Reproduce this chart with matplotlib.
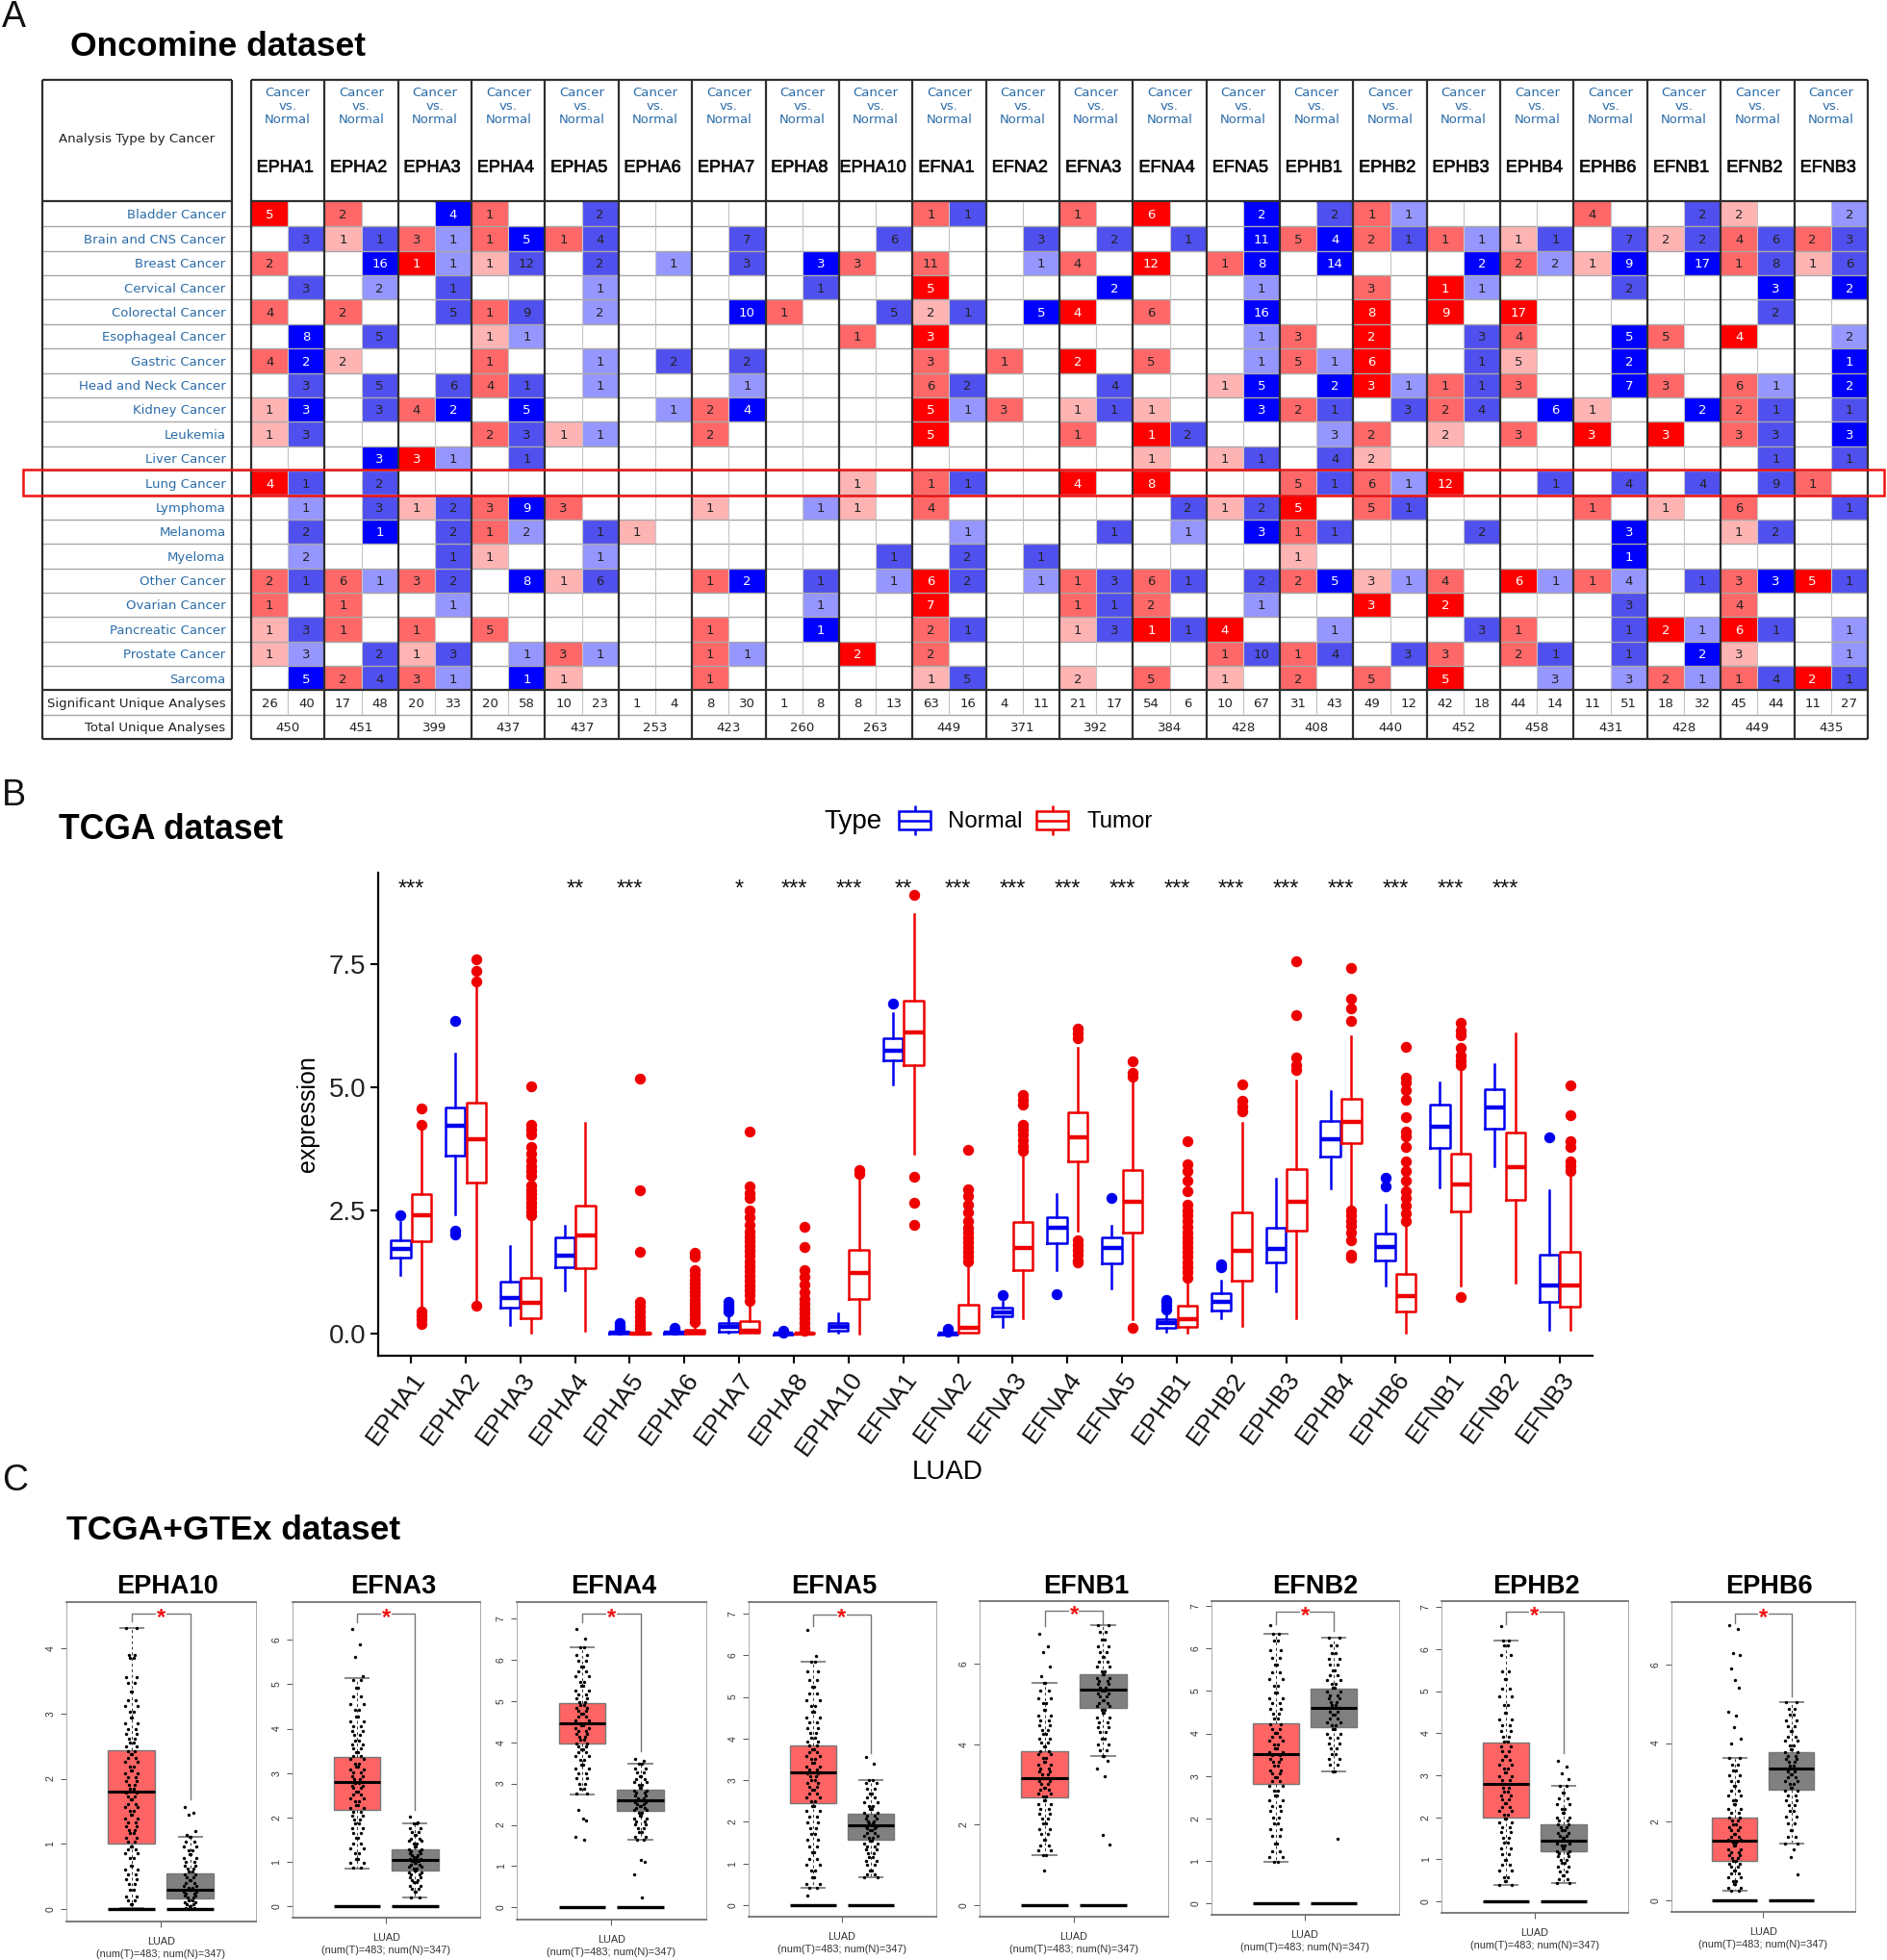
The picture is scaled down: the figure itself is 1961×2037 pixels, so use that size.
import matplotlib
matplotlib.use("Agg")
import matplotlib.pyplot as plt
import matplotlib.patheffects as pe
from matplotlib.colors import ListedColormap
from matplotlib.patches import Rectangle
import numpy as np

plt.rcParams['font.family'] = ['Liberation Sans', 'DejaVu Sans']

W, H = 1961, 2037

# ---- panel A data ----
genes_a = ['EPHA1','EPHA2','EPHA3','EPHA4','EPHA5','EPHA6','EPHA7','EPHA8','EPHA10','EFNA1','EFNA2',
           'EFNA3','EFNA4','EFNA5','EPHB1','EPHB2','EPHB3','EPHB4','EPHB6','EFNB1','EFNB2','EFNB3']
cancers = ['Bladder Cancer','Brain and CNS Cancer','Breast Cancer','Cervical Cancer','Colorectal Cancer',
           'Esophageal Cancer','Gastric Cancer','Head and Neck Cancer','Kidney Cancer','Leukemia','Liver Cancer',
           'Lung Cancer','Lymphoma','Melanoma','Myeloma','Other Cancer','Ovarian Cancer','Pancreatic Cancer',
           'Prostate Cancer','Sarcoma']
# count:rank for each gene, up column then down column, rank 1-3 is the colour step of the cell
cells = [
 "5:3 -  2:2 -  - 4:3  1:2 -  - 2:2  - -  - -  - -  - -  1:2 1:2  - -  1:2 -  6:3 -  - 2:3  - 2:2  1:2 1:1  - -  - -  4:2 -  - 2:2  2:1 -  - 2:1",
 "- 3:2  1:1 1:2  3:2 1:1  1:2 5:3  1:2 4:2  - -  - 7:2  - -  - 6:2  - -  - 3:2  - 2:2  - 1:2  - 11:3  5:2 4:3  2:2 1:2  1:2 1:1  1:1 1:2  - 7:2  2:1 2:2  4:2 6:2  2:2 3:2",
 "2:2 -  - 16:3  1:3 1:1  1:1 12:2  - 2:2  - 1:1  - 3:2  - 3:3  3:2 -  11:2 -  - 1:1  4:2 -  12:3 -  1:2 8:3  - 14:3  - -  - 2:3  2:2 2:1  1:1 9:3  - 17:3  1:2 8:2  1:1 6:2",
 "- 3:2  - 2:1  - 1:2  - -  - 1:1  - -  - -  - 1:2  - -  5:3 -  - -  - 2:3  - -  - 1:1  - -  3:2 -  1:3 1:1  - -  - 2:2  - -  - 3:3  - 2:3",
 "4:2 -  2:2 -  - 5:2  1:2 9:2  - 2:1  - -  - 10:3  1:2 -  - 5:2  2:1 1:2  - 5:3  4:3 -  6:2 -  - 16:3  - -  8:3 -  9:3 -  17:3 -  - -  - -  - 2:2  - -",
 "- 8:3  - 5:2  - -  1:1 1:1  - -  - -  - -  - -  1:2 -  3:3 -  - -  - -  - -  - 1:1  3:2 -  2:3 -  - 3:2  4:2 -  - 5:3  5:2 -  4:3 -  - 2:1",
 "4:2 2:3  2:1 -  - -  1:2 -  - 1:1  - 2:2  - 2:2  - -  - -  3:2 -  1:2 -  2:3 -  5:2 -  - 1:1  5:2 1:1  6:3 -  - 1:2  5:1 -  - 2:3  - -  - -  - 1:3",
 "- 3:2  - 5:2  - 6:2  4:2 1:2  - 1:1  - -  - 1:1  - -  - -  6:2 2:2  - -  - 4:2  - -  1:1 5:3  - 2:3  3:3 1:1  1:2 1:2  3:2 -  - 7:3  3:2 -  6:2 1:1  - 2:3",
 "1:1 3:3  - 3:2  4:2 2:3  - 5:3  - -  - 1:1  2:2 4:3  - -  - -  5:3 1:1  3:2 -  1:1 1:2  1:1 -  - 3:3  2:2 1:2  - 3:2  2:2 4:2  - 6:3  1:1 -  - 2:3  2:2 1:2  - 1:2",
 "1:1 3:2  - -  - -  2:2 3:2  1:1 1:1  - -  2:2 -  - -  - -  5:3 -  - -  1:2 -  1:3 2:2  - -  - 3:1  2:2 -  2:1 -  3:2 -  3:3 -  3:3 -  3:2 3:2  - 3:3",
 "- -  - 3:3  3:3 1:1  - 1:2  - -  - -  - -  - -  - -  - -  - -  - -  1:1 -  1:1 1:2  - 4:2  2:1 -  - -  - -  - -  - -  - 1:2  - 1:2",
 "4:3 1:2  - 2:2  - -  - -  - -  - -  - -  - -  1:1 -  1:2 1:2  - -  4:3 -  8:3 -  - -  5:2 1:2  6:2 1:1  12:3 -  - 1:2  - 4:2  - 4:2  - 9:2  1:2 -",
 "- 1:1  - 3:2  1:1 2:2  3:2 9:3  3:2 -  - -  1:1 -  - 1:1  1:1 -  4:2 -  - -  - -  - 2:2  1:1 2:2  5:3 -  5:2 1:2  - -  - -  1:2 -  1:1 -  6:2 -  - 1:2",
 "- 2:2  - 1:3  - 2:2  1:2 2:1  - 1:2  1:1 -  - -  - -  - -  - 1:1  - -  - 1:2  - 1:1  - 3:3  1:2 1:2  - -  - 2:2  - -  - 3:3  - -  1:1 2:2  - -",
 "- 2:1  - -  - 1:2  1:1 -  - 1:1  - -  - -  - -  - 1:2  - 2:2  - 1:2  - -  - -  - -  1:1 -  - -  - -  - -  - 1:3  - -  - -  - -",
 "2:2 1:2  6:2 1:1  3:2 2:2  - 8:3  1:1 6:2  - -  1:2 2:3  - 1:2  - 1:1  6:3 2:2  - 1:1  1:2 3:2  6:2 1:2  - 2:2  2:2 5:3  3:1 1:1  4:2 -  6:3 1:1  1:2 4:1  - 1:2  3:2 3:3  5:3 1:2",
 "1:2 -  1:2 -  - 1:1  - -  - -  - -  - -  - 1:1  - -  7:3 -  - -  1:2 1:2  2:2 -  - 1:1  - -  3:3 -  2:3 -  - -  - 3:2  - -  4:2 -  - -",
 "1:1 3:2  1:2 -  1:2 -  5:2 -  - -  - -  1:2 -  - 1:3  - -  2:2 1:2  - -  1:1 3:2  1:3 1:2  4:3 -  - 1:1  - -  - 3:2  1:2 -  - 1:2  2:3 1:1  6:3 1:2  - 1:1",
 "1:1 3:1  - 2:2  1:1 3:2  - 1:1  3:2 1:1  - -  1:2 1:1  - -  2:3 -  2:2 -  - -  - -  - -  1:2 10:2  1:2 4:2  - 3:2  3:2 -  2:2 1:2  - 1:2  - 2:3  3:1 -  - 1:1",
 "- 5:3  2:2 4:2  3:2 1:1  - 1:3  1:1 -  - -  1:2 -  - -  - -  1:1 5:2  - -  2:1 -  5:2 -  1:1 -  2:2 -  5:2 -  5:3 -  - 3:1  - 3:1  2:2 1:1  1:2 4:2  2:3 1:2",
]
sig_unique = [26,40,17,48,20,33,20,58,10,23,1,4,8,30,1,8,8,13,63,16,4,11,21,17,54,6,10,67,31,43,49,12,42,18,44,14,11,51,18,32,45,44,11,27]
total_unique = [450,451,399,437,437,253,423,260,263,449,371,392,384,428,408,440,452,458,431,428,449,435]

# ---- panel B data ----
genes_b = genes_a
stars = ['***','','','**','***','','*','***','***','**','***','***','***','***','***','***','***','***','***','***','***','']

normal_q1  = [1.54,3.62,0.53,1.36,0.00,0.00,0.05,-0.01,0.07,5.55,-0.01,0.35,1.85,1.43,0.13,0.48,1.45,3.60,1.50,3.77,4.16,0.65]
normal_med = [1.72,4.22,0.73,1.59,0.02,0.02,0.14,0.00,0.14,5.74,0.00,0.44,2.15,1.75,0.22,0.66,1.73,3.95,1.77,4.20,4.60,0.99]
normal_q3  = [1.90,4.59,1.07,1.95,0.04,0.05,0.23,0.01,0.23,5.99,0.01,0.53,2.36,1.96,0.30,0.83,2.16,4.31,2.03,4.65,4.96,1.61]
normal_lo  = [1.20,2.43,0.18,0.89,0.00,0.00,0.02,-0.01,0.03,5.05,-0.01,0.14,1.29,0.93,0.04,0.32,0.87,2.95,0.98,2.97,3.41,0.08]
normal_hi  = [2.27,5.68,1.79,2.20,0.06,0.08,0.39,0.02,0.41,6.51,0.02,0.66,2.84,2.19,0.44,1.09,3.14,4.92,2.63,5.10,5.46,2.92]
normal_out = [[2.41],[6.34,2.10,2.02],[],[],[0.08,0.12,0.17,0.22],[0.08,0.13],[0.45,0.52,0.58,0.65],[0.03,0.06],[],[6.69],
              [0.05,0.10],[0.79],[0.80],[2.75],[0.50,0.58,0.65,0.70],[1.35,1.42],[],[],[3.17,3.00],[],[],[3.98]]

tumor_q1  = [1.88,3.07,0.32,1.33,0.00,0.00,0.02,0.00,0.71,5.45,0.02,1.29,3.49,2.05,0.15,1.09,2.10,3.87,0.45,2.49,2.71,0.56]
tumor_med = [2.41,3.95,0.64,1.99,0.01,0.03,0.07,0.01,1.23,6.12,0.13,1.74,3.99,2.68,0.30,1.68,2.69,4.30,0.77,3.04,3.38,0.98]
tumor_q3  = [2.83,4.69,1.14,2.61,0.03,0.09,0.27,0.02,1.70,6.76,0.59,2.27,4.49,3.32,0.57,2.46,3.34,4.76,1.21,3.66,4.09,1.67]
tumor_lo  = [0.50,0.66,0.02,0.07,0.00,0.00,0.02,0.00,0.00,3.66,0.02,0.33,2.10,0.30,0.02,0.17,0.33,2.60,0.03,0.98,1.05,0.08]
tumor_hi  = [4.15,7.07,2.32,4.27,0.07,0.20,0.60,0.04,3.17,8.52,1.42,3.62,5.80,5.12,1.02,4.27,5.14,6.04,2.20,5.34,6.10,3.25]
tumor_out = [[4.58,4.25,0.45,0.38,0.30,0.20],
             [7.59,7.36,7.15,0.58],
             [5.03,4.25,4.15,4.05,3.80,3.65,3.52,3.40,3.30,3.20,3.02,2.92,2.84,2.75,2.66,2.58,2.48,2.40],
             [],
             [5.18,2.92,1.66,0.65,0.56,0.46,0.36,0.27,0.18,0.10],
             [1.65,1.56,1.30,1.20,1.11,1.02,0.95,0.86,0.78,0.70,0.62,0.55,0.47,0.40,0.32,0.25],
             [4.10,3.00,2.85,2.75,2.50,2.36,2.22,2.08,1.98,1.88,1.78,1.68,1.58,1.48,1.38,1.28,1.18,1.08,0.98,0.88,0.78,0.68],
             [2.17,1.77,1.30,1.15,1.00,0.85,0.72,0.62,0.52,0.42,0.32,0.22,0.12,0.07],
             [3.32,3.25],
             [8.91,3.18,2.67,2.21],
             [3.73,2.93,2.80,2.62,2.46,2.30,2.16,2.06,1.96,1.86,1.76,1.66,1.56,1.48],
             [4.85,4.75,4.65,4.25,4.15,4.05,3.92,3.82,3.72],
             [6.20,6.10,6.00,1.90,1.80,1.70,1.60,1.50,1.45],
             [5.52,5.30,5.22,0.13],
             [3.90,3.45,3.30,3.10,2.90,2.62,2.50,2.40,2.30,2.18,2.06,1.96,1.86,1.76,1.66,1.56,1.46,1.36,1.26,1.14],
             [5.05,4.72,4.62,4.52],
             [7.56,6.46,5.60,5.45,5.35],
             [7.41,6.80,6.60,6.34,2.50,2.40,2.30,2.20,2.05,1.90,1.60,1.55],
             [5.82,5.20,5.10,4.95,4.75,4.40,4.10,4.00,3.80,3.50,3.30,3.10,2.90,2.75,2.60,2.45,2.30],
             [6.30,6.15,6.05,5.80,5.65,5.55,5.45,0.75],
             [],
             [5.04,4.43,3.90,3.80,3.50,3.40,3.30]]

# ---- panel C data ----
genes_c = ['EPHA10','EFNA3','EFNA4','EFNA5','EFNB1','EFNB2','EPHB2','EPHB6']
c_ticks = [[0,1,2,3,4],[0,1,2,3,4,5,6],[0,1,2,3,4,5,6,7],[0,1,2,3,4,5,6,7],[0,2,4,6],[0,1,2,3,4,5,6,7],[0,1,2,3,4,5,6,7],[0,2,4,6]]
c_t_q1  = [1.00,2.18,3.96,2.45,2.67,2.81,1.99,1.00]
c_t_med = [1.80,2.79,4.46,3.19,3.17,3.51,2.79,1.51]
c_t_q3  = [2.44,3.37,4.95,3.84,3.83,4.24,3.78,2.11]
c_t_lo  = [0.01,0.85,2.74,0.41,1.25,0.97,0.39,0.24]
c_t_hi  = [4.31,5.13,6.31,5.85,5.54,6.35,6.21,3.62]
c_n_q1  = [0.16,0.81,2.33,1.57,4.90,4.15,1.18,2.82]
c_n_med = [0.29,1.04,2.59,1.92,5.36,4.59,1.44,3.34]
c_n_q3  = [0.54,1.28,2.84,2.20,5.76,5.06,1.82,3.76]
c_n_lo  = [0.00,0.21,1.63,0.68,3.71,3.11,0.44,1.44]
c_n_hi  = [1.10,1.87,3.48,3.00,6.96,6.26,2.74,5.04]
bracket_top   = [4.53,6.58,7.11,6.98,7.32,6.86,6.89,7.30]
bracket_left  = [4.42,6.40,6.90,6.70,6.94,6.56,6.60,7.05]
bracket_right = [1.68,2.18,3.79,3.65,7.00,6.40,3.53,5.20]

# hand read thinned set of the jitter dots, the picture has 483 and 347 per box
c_t_dots = [
 [4.31,3.90,3.85,3.56,3.47,3.33,3.21,3.12,3.02,2.93,2.85,2.76,2.68,2.61,2.55,2.49,2.42,2.37,2.31,2.26,2.19,2.13,2.08,2.02,1.97,1.91,1.84,1.79,1.73,1.68,1.61,1.56,1.51,1.44,1.39,1.33,1.27,1.21,1.16,1.09,1.03,0.96,0.91,0.85,0.78,0.66,0.61,0.53,0.46,0.38,0.29,0.19,0.14,0.08],
 [6.25,5.90,5.62,5.19,5.10,4.91,4.72,4.55,4.42,4.28,4.16,4.05,3.94,3.85,3.73,3.64,3.55,3.46,3.38,3.31,3.22,3.15,3.07,3.01,2.93,2.86,2.78,2.72,2.66,2.58,2.51,2.44,2.37,2.29,2.21,2.13,2.04,1.95,1.86,1.77,1.66,1.54,1.42,1.31,1.19,1.06,0.97,0.87],
 [6.75,6.50,6.31,6.12,5.98,5.83,5.72,5.59,5.46,5.37,5.26,5.15,5.07,4.98,4.91,4.83,4.76,4.69,4.62,4.54,4.47,4.41,4.34,4.27,4.20,4.13,4.06,3.98,3.91,3.83,3.75,3.66,3.57,3.46,3.36,3.24,3.12,3.00,2.88,2.76,2.35,2.15,2.10,1.70,1.65],
 [6.60,5.98,5.85,5.62,5.41,5.25,5.08,4.93,4.78,4.64,4.51,4.38,4.26,4.14,4.03,3.93,3.83,3.75,3.67,3.58,3.50,3.41,3.33,3.25,3.17,3.09,3.01,2.93,2.85,2.76,2.67,2.58,2.49,2.38,2.26,2.13,1.99,1.85,1.72,1.58,1.42,1.27,1.12,0.96,0.82,0.66,0.51,0.41,0.23],
 [6.75,6.45,6.30,5.95,5.70,5.54,5.33,5.16,5.02,4.87,4.72,4.59,4.47,4.36,4.25,4.14,4.04,3.94,3.83,3.75,3.66,3.57,3.49,3.41,3.33,3.25,3.17,3.09,3.01,2.93,2.86,2.78,2.70,2.60,2.50,2.39,2.27,2.15,2.02,1.89,1.76,1.62,1.48,1.36,1.25,0.85],
 [6.55,6.35,6.18,5.96,5.78,5.61,5.44,5.27,5.11,4.96,4.83,4.71,4.58,4.46,4.34,4.22,4.11,4.02,3.92,3.83,3.74,3.65,3.57,3.49,3.41,3.33,3.24,3.14,3.05,2.96,2.87,2.77,2.66,2.54,2.42,2.29,2.17,2.03,1.88,1.74,1.60,1.42,1.23,1.09,0.97],
 [6.55,6.21,6.08,5.86,5.46,5.29,5.05,4.87,4.66,4.49,4.32,4.18,4.04,3.91,3.79,3.68,3.57,3.46,3.36,3.26,3.16,3.06,2.97,2.88,2.79,2.70,2.61,2.51,2.42,2.33,2.24,2.15,2.06,1.97,1.87,1.76,1.64,1.52,1.39,1.26,1.12,0.98,0.86,0.73,0.58,0.47,0.39],
 [7.00,6.90,6.30,6.25,5.90,5.60,5.40,4.80,4.70,4.40,4.10,4.00,3.62,3.45,3.31,3.17,3.03,2.90,2.78,2.66,2.55,2.44,2.33,2.22,2.11,2.02,1.93,1.85,1.77,1.69,1.61,1.53,1.46,1.38,1.30,1.22,1.15,1.07,1.00,0.92,0.84,0.76,0.67,0.58,0.49,0.40,0.32,0.24],
]
c_n_dots = [
 [1.57,1.48,1.45,1.20,1.14,1.10,1.04,0.96,0.90,0.84,0.78,0.73,0.67,0.62,0.57,0.53,0.48,0.44,0.40,0.36,0.33,0.29,0.26,0.23,0.20,0.17,0.14,0.11,0.08,0.05,0.02],
 [2.02,1.90,1.87,1.76,1.68,1.60,1.53,1.47,1.41,1.35,1.29,1.24,1.20,1.15,1.10,1.06,1.02,0.98,0.94,0.90,0.86,0.81,0.76,0.71,0.65,0.60,0.54,0.47,0.40,0.33,0.21],
 [3.60,3.55,3.48,3.36,3.26,3.18,3.10,3.03,2.96,2.89,2.83,2.77,2.71,2.65,2.60,2.55,2.50,2.45,2.40,2.35,2.29,2.23,2.16,2.09,2.01,1.92,1.82,1.72,1.63,1.15,1.10,0.80,0.25],
 [3.55,3.40,3.00,2.94,2.80,2.68,2.58,2.48,2.39,2.30,2.22,2.15,2.08,2.02,1.96,1.90,1.85,1.79,1.73,1.67,1.61,1.55,1.48,1.41,1.33,1.25,1.16,1.06,0.96,0.84,0.74,0.68],
 [6.96,6.80,6.62,6.44,6.30,6.17,6.05,5.94,5.83,5.74,5.66,5.58,5.50,5.42,5.35,5.27,5.19,5.11,5.03,4.95,4.87,4.78,4.68,4.56,4.44,4.30,4.15,3.99,3.85,3.71,3.60,3.40,3.20,1.75,1.50],
 [6.26,6.08,5.89,5.75,5.61,5.49,5.37,5.26,5.16,5.07,4.98,4.90,4.82,4.74,4.66,4.59,4.51,4.43,4.35,4.27,4.19,4.10,4.00,3.89,3.77,3.65,3.52,3.39,3.26,3.11,1.53],
 [3.35,3.20,3.05,2.90,2.74,2.58,2.44,2.31,2.20,2.10,2.00,1.92,1.84,1.76,1.69,1.62,1.56,1.50,1.44,1.38,1.32,1.26,1.20,1.14,1.07,0.99,0.91,0.82,0.72,0.61,0.52,0.44],
 [5.04,4.88,4.72,4.57,4.43,4.30,4.17,4.05,3.95,3.85,3.76,3.67,3.59,3.51,3.43,3.36,3.28,3.20,3.12,3.04,2.96,2.87,2.78,2.66,2.54,2.41,2.27,2.12,1.96,1.79,1.60,1.44,1.30,1.10,0.65],
]

# ---- layout, pixels of the full picture ----
col_x0, col_w = 261.0, 76.36
row_y0, row_h = 210.0, 25.37
txt_dy = 1.3
# left, right, top, bottom, pixel of y=0, pixels per unit
panel_px = [
 (68.5, 266, 1665, 1997, 1984, 67.75),
 (303.5, 499, 1665, 1993, 1981.3, 46.2),
 (537, 733.5, 1665, 1994.7, 1982.3, 42.9),
 (777.5, 972.5, 1665, 1992.3, 1980, 43.3),
 (1017.5, 1214.5, 1664, 1991.7, 1979.7, 41.7),
 (1258.5, 1453.5, 1664, 1990, 1978.3, 44.2),
 (1498, 1691.5, 1664, 1988, 1976, 43.7),
 (1736.5, 1928, 1665, 1986.7, 1974.7, 40.8),
]
title_x = [174, 409, 638, 867, 1129, 1367, 1596, 1838]

fig = plt.figure(figsize=(W/100, H/100), dpi=100)
ov = fig.add_axes([0, 0, 1, 1])
ov.set_xlim(0, W)
ov.set_ylim(H, 0)
ov.axis('off')


def px_axes(l, r, t, b):
    return fig.add_axes([l/W, 1-b/H, (r-l)/W, (b-t)/H])


for letter, y in [('A', 18), ('B', 827), ('C', 1539)]:
    ov.text(2, y, letter, fontsize=27, va='center', ha='left', color='#111111')
ov.text(73, 48, 'Oncomine dataset', fontsize=25.5, fontweight='bold', va='center')
ov.text(61, 863, 'TCGA dataset', fontsize=25.6, fontweight='bold', va='center')
ov.text(69, 1590, 'TCGA+GTEx dataset', fontsize=25.5, fontweight='bold', va='center')

# ---- panel A ----
link_blue = '#2b6ca8'
n_rows = len(cancers)
n_cols = len(genes_a)*2
rank_grid = np.zeros((n_rows, n_cols))
count_grid = np.zeros((n_rows, n_cols), dtype=int)
for i, row in enumerate(cells):
    toks = row.split()
    assert len(toks) == n_cols, (i, len(toks))
    for j, tok in enumerate(toks):
        if tok == '-':
            continue
        c, r = tok.split(':')
        count_grid[i, j] = int(c)
        rank_grid[i, j] = int(r) if j % 2 == 0 else -int(r)

x_edges = col_x0 + np.arange(n_cols+1)*col_w/2
y_edges = row_y0 + np.arange(n_rows+1)*row_h
cmap = ListedColormap(['#0000ff', '#5050ee', '#9696ff', '#ffffff', '#ffb4b4', '#ff6868', '#ff0000'])
ov.pcolormesh(x_edges, y_edges, rank_grid, cmap=cmap, vmin=-3.5, vmax=3.5)
tab_bottom = y_edges[-1]
foot1, foot2 = tab_bottom+25.5, tab_bottom+50.5
tab_top = 82.5
head_bottom = 209.0

ov.hlines(y_edges[1:-1], 43, col_x0+col_w*22, color='#a8a8a8', lw=1.0)
ov.hlines(foot1, 43, col_x0+col_w*22, color='#a8a8a8', lw=1.0)
ov.vlines(x_edges[1::2], y_edges[0], tab_bottom+25.5, color='#c4c4c4', lw=0.8)
for k in range(23):
    x = col_x0+k*col_w
    ov.vlines(x, tab_top, foot2, color='#2e2e2e', lw=1.6)
for y in [tab_top, head_bottom, tab_bottom, foot2]:
    ov.hlines(y, col_x0, col_x0+22*col_w, color='#2e2e2e', lw=1.6)
    ov.hlines(y, 43.5, 241, color='#2e2e2e', lw=1.6)
ov.vlines([43.5, 241], tab_top, foot2, color='#2e2e2e', lw=1.6)

ov.text(142, 143+txt_dy, 'Analysis Type by Cancer', fontsize=9.6, family='DejaVu Sans', ha='center', va='center', color='#222222')
for k, g in enumerate(genes_a):
    cx = col_x0+(k+0.5)*col_w
    ov.text(cx, 95+txt_dy, 'Cancer', fontsize=9.5, family='DejaVu Sans', ha='center', va='center', color=link_blue)
    ov.text(cx, 109+txt_dy, 'vs.', fontsize=9.5, family='DejaVu Sans', ha='center', va='center', color=link_blue)
    ov.text(cx, 123+txt_dy, 'Normal', fontsize=9.5, family='DejaVu Sans', ha='center', va='center', color=link_blue)
    ov.text(cx-3, 173+txt_dy, g, fontsize=13, ha='center', va='center', color='#111111',
            path_effects=[pe.withStroke(linewidth=0.5, foreground='#111111')])
    ov.text(cx, foot1+12.5+txt_dy, str(total_unique[k]), fontsize=9.5, family='DejaVu Sans', ha='center', va='center', color='#222222')
for i, c in enumerate(cancers):
    yc = row_y0+(i+0.5)*row_h+txt_dy
    ov.text(234.5, yc, c, fontsize=9.5, family='DejaVu Sans', ha='right', va='center', color=link_blue)
    for j in range(n_cols):
        if count_grid[i, j]:
            txt_c = 'white' if abs(rank_grid[i, j]) == 3 else '#222222'
            ov.text((x_edges[j]+x_edges[j+1])/2, yc, str(count_grid[i, j]),
                    fontsize=9.5, family='DejaVu Sans', ha='center', va='center', color=txt_c)
ov.text(234.5, tab_bottom+12.5+txt_dy, 'Significant Unique Analyses', fontsize=9.5, family='DejaVu Sans', ha='right', va='center', color='#222222')
ov.text(234.5, foot1+12.5+txt_dy, 'Total Unique Analyses', fontsize=9.5, family='DejaVu Sans', ha='right', va='center', color='#222222')
for j, v in enumerate(sig_unique):
    ov.text((x_edges[j]+x_edges[j+1])/2, tab_bottom+12.5+txt_dy, str(v), fontsize=9.5, family='DejaVu Sans', ha='center', va='center', color='#222222')
row_lung = cancers.index('Lung Cancer')
ov.add_patch(Rectangle((24, y_edges[row_lung]-1), 1934, row_h+1.5, fill=False, edgecolor='#ee1111', lw=1.8, zorder=5))

# ---- panel B ----
ax = px_axes(393, 1655, 907, 1409)
ax.patch.set_alpha(0)
ax.set_xlim(-0.6, 21.6)
ax.set_ylim(-0.44, 9.35)


def box_stats(q1, med, q3, lo, hi, out):
    return [dict(q1=a, med=b, q3=c, whislo=d, whishi=e, fliers=f) for a, b, c, d, e, f in zip(q1, med, q3, lo, hi, out)]


xpos = np.arange(len(genes_b))
for stats, off, col in [(box_stats(normal_q1, normal_med, normal_q3, normal_lo, normal_hi, normal_out), -0.19, '#0000ee'),
                        (box_stats(tumor_q1, tumor_med, tumor_q3, tumor_lo, tumor_hi, tumor_out), 0.19, '#ee0000')]:
    ax.bxp(stats, positions=xpos+off, widths=0.36, showcaps=False, manage_ticks=False,
           boxprops=dict(color=col, lw=1.8), whiskerprops=dict(color=col, lw=1.8),
           medianprops=dict(color=col, lw=3.2),
           flierprops=dict(marker='o', mfc=col, mec=col, ms=7.2, ls='none'))
for x, s in zip(xpos, stars):
    if s:
        ax.text(x, 9.0, s, fontsize=17, ha='center', va='center', color='#111111')
ax.spines['top'].set_visible(False)
ax.spines['right'].set_visible(False)
ax.spines['left'].set_linewidth(1.6)
ax.spines['bottom'].set_linewidth(1.6)
ax.set_yticks([0, 2.5, 5, 7.5])
ax.set_yticklabels(['0.0', '2.5', '5.0', '7.5'], fontsize=20, color='#222222')
ax.set_xticks(xpos)
ax.set_xticklabels(genes_b, fontsize=19, rotation=54, ha='right', rotation_mode='anchor', color='#111111')
ax.tick_params(width=1.5, length=6, pad=3)
ax.set_ylabel('expression', fontsize=18, labelpad=7)
ax.set_xlabel('LUAD', fontsize=20)
ax.xaxis.set_label_coords(0.469, -0.215)

ov.text(856, 854, 'Type', fontsize=20, va='center', ha='left')
ov.text(985, 854, 'Normal', fontsize=17.3, va='center', ha='left')
ov.text(1130, 854, 'Tumor', fontsize=17.3, va='center', ha='left')
for x0, col in [(934, '#0000ee'), (1077, '#ee0000')]:
    ov.add_patch(Rectangle((x0, 843), 33, 19, fill=False, edgecolor=col, lw=1.8))
    ov.hlines(852.5, x0, x0+33, color=col, lw=1.8)
    ov.vlines([x0+16.5, x0+16.5], [837, 862], [843, 868], color=col, lw=1.8)

# ---- panel C ----
# every read y is drawn twice, left and right of the box centre, to get near the density of the picture
jitter_x = [-0.09, 0.05, -0.03, 0.09, -0.06, 0.01, 0.07, -0.11, 0.03, -0.01, 0.11, -0.07]
for k, g in enumerate(genes_c):
    l, r, t, b, y0, per = panel_px[k]
    a = px_axes(l, r, t, b)
    a.set_xlim(-0.12, 3.12)
    a.set_ylim((y0-b)/per, (y0-t)/per)
    stats = [dict(q1=c_t_q1[k], med=c_t_med[k], q3=c_t_q3[k], whislo=c_t_lo[k], whishi=c_t_hi[k], fliers=[]),
             dict(q1=c_n_q1[k], med=c_n_med[k], q3=c_n_q3[k], whislo=c_n_lo[k], whishi=c_n_hi[k], fliers=[])]
    res = a.bxp(stats, positions=[1, 2], widths=0.8, patch_artist=True, showfliers=False, manage_ticks=False,
                boxprops=dict(edgecolor='#777777', lw=1.0),
                medianprops=dict(color='black', lw=2.2),
                whiskerprops=dict(color='#333333', lw=0.7, ls=(0, (3, 3))),
                capprops=dict(color='#888888', lw=1.4), capwidths=0.4)
    res['boxes'][0].set_facecolor('#ff6464')
    res['boxes'][1].set_facecolor('#808080')
    for pos, dots in [(1, c_t_dots[k]), (2, c_n_dots[k])]:
        xs = [pos+jitter_x[i % len(jitter_x)] for i in range(len(dots))]
        a.scatter(xs, dots, s=6, color='black', lw=0, zorder=4)
        # beyond the whiskers the dots were read one by one, those stay single
        lo_w, hi_w = (c_t_lo[k], c_t_hi[k]) if pos == 1 else (c_n_lo[k], c_n_hi[k])
        inner = [(x, y) for x, y in zip(xs, dots) if lo_w <= y <= hi_w]
        a.scatter([2*pos-x for x, y in inner], [y for x, y in inner], s=6, color='black', lw=0, zorder=4)
    a.hlines([0, 0], [0.6, 1.6], [1.4, 2.4], color='black', lw=2.4, zorder=5)
    a.plot([1, 1, 2, 2], [bracket_left[k], bracket_top[k], bracket_top[k], bracket_right[k]], color='#777777', lw=1.0, zorder=3)
    a.annotate('*', (1.5, bracket_top[k]), xytext=(0, -3), textcoords='offset points', color='#ee1111', fontsize=17,
               fontweight='bold', ha='center', va='center', bbox=dict(fc='white', ec='none', pad=0.5), zorder=6)
    a.set_xticks([1.5])
    a.set_xticklabels([''])
    a.set_yticks(c_ticks[k])
    a.set_yticklabels([str(v) for v in c_ticks[k]], rotation=90, va='center', fontsize=7.5, color='#333333')
    a.tick_params(length=4, width=0.7, color='#555555', pad=4)
    for side, sp in a.spines.items():
        sp.set_color('#666666' if side in ('top', 'bottom') else '#aaaaaa')
        sp.set_linewidth(1.2 if side in ('top', 'bottom') else 0.7)
    mid = (l+r)/2
    ov.text(title_x[k], 1648.5, g, fontsize=19.5, fontweight='bold', ha='center', va='center')
    ov.text(mid, b+21, 'LUAD', fontsize=7.8, ha='center', va='center', color='#333333')
    ov.text(mid, b+34, '(num(T)=483; num(N)=347)', fontsize=7.8, ha='center', va='center', color='#333333')

fig.savefig('out.png', dpi=100, facecolor='white')
